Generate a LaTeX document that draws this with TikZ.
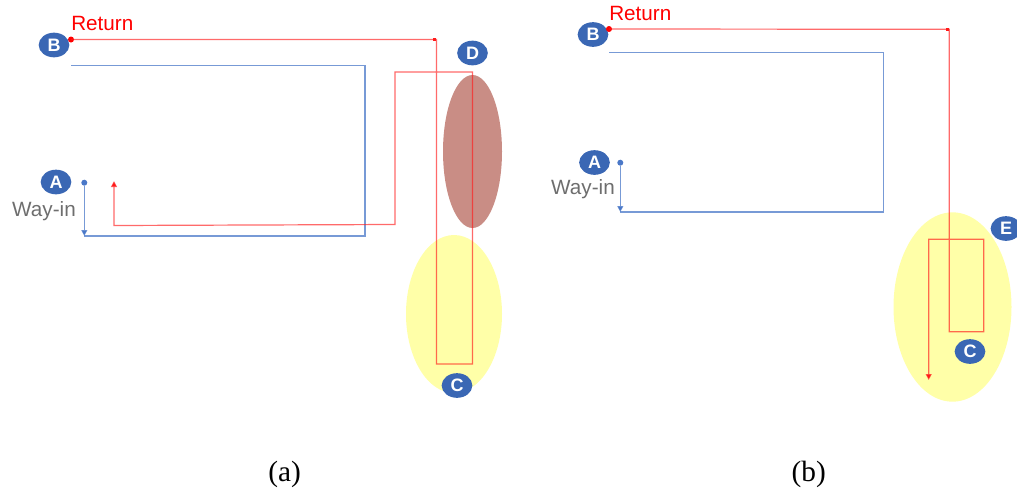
\documentclass[tikz,border=0pt]{standalone}
\usepackage{fontspec}
\setmainfont{Liberation Serif}
\setsansfont{Liberation Sans}
\usepackage{tikz}
\usetikzlibrary{shapes.geometric,arrows.meta}

\definecolor{tagblue}{HTML}{3A67B4}
\definecolor{pathblue}{HTML}{4A78C8}
\definecolor{pathred}{HTML}{FF1A1A}
\definecolor{zoneyellow}{HTML}{FFFFA8}
\definecolor{zonebrown}{HTML}{C98D85}
\definecolor{labelgray}{HTML}{6E6E6E}

\tikzset{
  tag/.style={ellipse, fill=tagblue, text=white, inner sep=0pt,
    minimum width=23pt, minimum height=18.5pt,
    font=\sffamily\bfseries\fontsize{13.5}{13.5}\selectfont},
  zone/.style={ellipse, inner sep=0pt},
  wayin/.style={pathblue, draw opacity=0.75, line width=0.8pt},
  return/.style={pathred, draw opacity=0.65, line width=0.9pt},
  tip/.style={-{Triangle[length=4.5pt,width=4.5pt]}},
  dot/.style={circle, inner sep=0pt, minimum size=4.5pt},
  label/.style={font=\sffamily\fontsize{15.5}{15.5}\selectfont, inner sep=0pt},
  caption/.style={font=\fontsize{22}{22}\selectfont, inner sep=0pt}
}

\begin{document}
\begin{tikzpicture}[x=0.75pt, y=-0.75pt]
     \useasboundingbox (0,0) rectangle (1017,493);

     % Zones
     \node[zone, fill=zoneyellow, minimum width=72pt, minimum height=118.5pt] (zoneCa) at (454,314) {};
     \node[zone, fill=zonebrown, minimum width=44.25pt, minimum height=114.75pt] (zoneD) at (472.5,151.5) {};
     \node[zone, fill=zoneyellow, minimum width=88.5pt, minimum height=142pt] (zoneCb) at (952.5,307) {};

     % Define nodes (a)
     \node[tag] (Ba) at (54,45) {B};
     \node[tag] (Aa) at (56,182) {A};
     \node[tag] (D)  at (472.5,53) {D};
     \node[tag] (Ca) at (457,385.5) {C};
     \node[dot, fill=red] (retA) at (71,39.5) {};
     \node[dot, fill=pathblue] (inA) at (84.3,182.7) {};
     \node[label, text=red, anchor=south west] (returnA) at (71,31) {Return};
     \node[label, text=labelgray] (wayA) at (44,211) {Way-in};

     % Define nodes (b)
     \node[tag] (Bb) at (593,34.5) {B};
     \node[tag] (Ab) at (594.5,162.5) {A};
     \node[tag] (E)  at (1006,228.5) {E};
     \node[tag] (Cb) at (970,351.5) {C};
     \node[dot, fill=red] (retB) at (609,29) {};
     \node[dot, fill=pathblue] (inB) at (620.3,162.7) {};
     \node[label, text=red, anchor=south west] (returnB) at (609,21) {Return};
     \node[label, text=labelgray] (wayB) at (583,189) {Way-in};

     % Corners
     \coordinate (inEndA) at (84.3,236);
     \coordinate (inEndB) at (620.3,212);
     \coordinate (retEndA) at (114,181);
     \coordinate (retEndB) at (928.7,380);

     % Way-in paths
     \draw[wayin, tip] (inA) -- (inEndA);
     \draw[wayin] (inEndA) -- (365,236) -- (365,65.7) -- (71,65.7);
     \draw[wayin, tip] (inB) -- (inEndB);
     \draw[wayin] (inEndB) -- (883.3,212) -- (883.3,52.7) -- (609,52.7);

     % Return paths
     \fill[pathred] (432.5,38) rectangle (435.5,41);
     \draw[return, tip] (retA.center) -- (436.5,39.5) -- (436.5,364) -- (472.5,364)
       -- (472.5,72) -- (395,72) -- (395,224.5) -- (114,225.5) -- (retEndA);
     \fill[pathred] (946.2,27.8) rectangle (949.2,30.8);
     \draw[return, tip] (retB.center) -- (949.3,29.3) -- (949.3,331.7) -- (983.7,331.7)
       -- (983.7,239.3) -- (928.7,239.3) -- (retEndB);

     % Captions
     \node[caption] (capA) at (284.7,474) {(a)};
     \node[caption] (capB) at (808.7,474) {(b)};

\end{tikzpicture}
\end{document}
